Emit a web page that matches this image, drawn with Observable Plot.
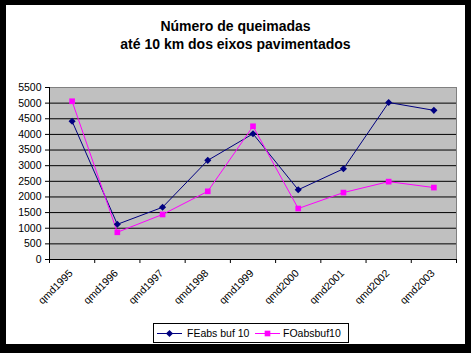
<!DOCTYPE html>
<html><head><meta charset="utf-8">
<script src="https://cdn.jsdelivr.net/npm/d3@7"></script>
<script src="https://cdn.jsdelivr.net/npm/@observablehq/plot@0.6"></script>
<style>
body{margin:0;background:#000;}
#frame{position:relative;width:471px;height:353px;background:#000;overflow:hidden;font-family:Arial,"Liberation Sans",sans-serif;}
#inner{position:absolute;left:6px;top:5px;width:459px;height:339px;background:#fff;}
#title{position:absolute;left:0;top:12px;width:459px;text-align:center;font-weight:bold;font-size:14px;line-height:18px;color:#000;}
#chart{position:absolute;left:0;top:0;}
#legend{position:absolute;left:147px;top:318px;width:194px;height:18px;border:1px solid #000;background:#fff;}
#legend svg{display:block;}
</style>
</head><body>
<div id="frame"><div id="inner">
<div id="chart"></div>
<div id="title">Número de queimadas<br>até 10 km dos eixos pavimentados</div>
<div id="legend"></div>
</div></div>
<script>
const categories = ["qmd1995","qmd1996","qmd1997","qmd1998","qmd1999","qmd2000","qmd2001","qmd2002","qmd2003"];
const feabs = [4420, 1125, 1670, 3170, 4020, 2230, 2900, 5020, 4770];
const foabs = [5060, 870, 1440, 2180, 4260, 1630, 2140, 2490, 2300];
const yTicks = [0,500,1000,1500,2000,2500,3000,3500,4000,4500,5000,5500];
const seriesNames = ["FEabs buf 10", "FOabsbuf10"];
const seriesColors = ["#000080", "#FF00FF"];
const seriesSymbols = ["diamond2", "square"];

const rows = [];
seriesNames.forEach((s, k) => {
  const vals = k === 0 ? feabs : foabs;
  categories.forEach((c, i) => rows.push({i, cat: c, v: vals[i], s}));
});
const boundaries = categories.map((c, i) => i).concat([categories.length]);
const labelRows = categories.map((c, i) => ({x: i + 0.5, label: c}));

const font = "Arial, 'Liberation Sans', sans-serif";
const chart = Plot.plot({
  width: 459, height: 310,
  marginLeft: 43, marginRight: 9, marginTop: 82, marginBottom: 56,
  style: {background: "transparent", fontFamily: font, fontSize: "10.5px", color: "#000"},
  x: {type: "linear", domain: [0, categories.length]},
  y: {domain: [0, 5500]},
  color: {domain: seriesNames, range: seriesColors},
  symbol: {domain: seriesNames, range: seriesSymbols},
  marks: [
    Plot.frame({fill: "#C0C0C0", stroke: "#808080"}),
    Plot.ruleY(yTicks.filter(t => t > 0 && t < 5500), {stroke: "#000"}),
    Plot.ruleX([0], {stroke: "#000"}),
    Plot.ruleY([0], {stroke: "#000"}),
    Plot.axisY({ticks: yTicks, tickSize: 4, tickPadding: 4, tickFormat: d => String(d), label: null, stroke: "#000", fill: "#000"}),
    Plot.axisX({ticks: boundaries, tickSize: 4, tickFormat: () => "", label: null, stroke: "#000"}),
    Plot.text(labelRows, {x: "x", text: "label", frameAnchor: "bottom", textAnchor: "end", lineAnchor: "middle", rotate: -45, dx: -1, dy: 12, fill: "#000"}),
    Plot.line(rows, {x: d => d.i + 0.5, y: "v", z: "s", stroke: "s", strokeWidth: 1}),
    Plot.dot(rows, {x: d => d.i + 0.5, y: "v", symbol: "s", fill: "s", stroke: "none", r: 3.2})
  ]
});
document.getElementById("chart").appendChild(chart);

// legend
const lw = 194, lh = 18;
const lsvg = d3.select("#legend").append("svg").attr("width", lw).attr("height", lh)
  .style("font-family", font).style("font-size", "10.5px");
const items = [{x0: 3, x1: 28, text: 33}, {x0: 101, x1: 126, text: 129}];
seriesNames.forEach((s, k) => {
  const it = items[k];
  const g = lsvg.append("g");
  g.append("line").attr("x1", it.x0).attr("x2", it.x1).attr("y1", lh / 2 + 0.5).attr("y2", lh / 2 + 0.5)
    .attr("stroke", seriesColors[k]).attr("stroke-width", 1);
  const sym = k === 0 ? d3.symbolDiamond2 : d3.symbolSquare;
  g.append("path").attr("d", d3.symbol(sym, Math.PI * 3.2 * 3.2)())
    .attr("transform", `translate(${(it.x0 + it.x1) / 2},${lh / 2 + 0.5})`).attr("fill", seriesColors[k]);
  g.append("text").attr("x", it.text).attr("y", lh / 2 + 4).attr("fill", "#000").text(s);
});
</script>
</body></html>
